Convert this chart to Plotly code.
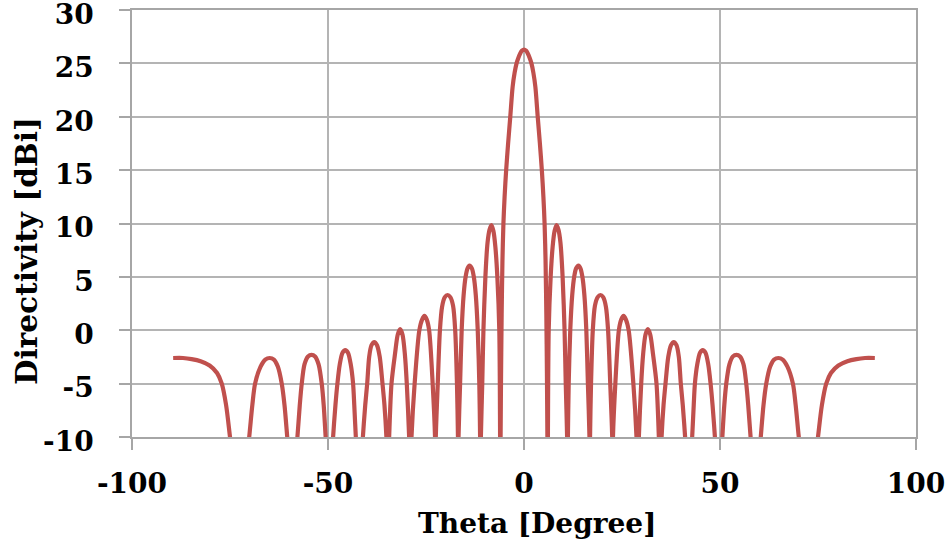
import plotly.graph_objects as go

# Directivity pattern (theta in degrees, directivity in dBi)
theta_left = [-89.5, -87.0, -84.8, -82.5, -80.2, -78.3, -77.1, -76.0, -75.0,
              -72.5, -70.1, -69.3, -68.6, -67.2, -66.0, -64.9, -63.8, -62.8, -61.8, -61.1, -60.4,
              -59.1, -57.8, -57.2, -56.7, -56.0, -55.1, -54.2, -53.3, -52.4, -51.6, -51.1, -50.6,
              -49.6, -48.7, -48.1, -47.6, -47.0, -46.3, -45.6, -44.9, -44.2, -43.6, -43.3, -42.9,
              -42.0, -41.1, -40.5, -40.0, -39.5, -38.9, -38.2, -37.5, -36.8, -36.1, -35.6, -35.1,
              -34.75, -34.4, -33.8, -32.9, -32.2, -31.6, -31.0, -30.4, -29.9, -29.3,
              -29.0, -28.7, -27.9, -26.7, -26.0, -25.4, -24.8, -24.2, -23.3, -22.7,
              -22.6, -22.5, -22.0, -21.45, -20.9, -20.2, -19.5, -18.8, -18.1, -17.55, -17.1, -16.85,
              -16.75, -16.7, -16.3, -15.9, -15.4, -14.9, -14.4, -13.9, -13.3, -12.8, -12.3, -11.8, -11.4, -11.2,
              -11.1, -11.0, -10.65, -10.35, -9.85, -9.3, -8.8, -8.3, -7.8, -7.3, -6.8, -6.3, -6.1,
              -6.04, -5.97, -5.85, -5.7, -5.5, -5.25, -4.95, -4.55, -4.05, -3.5, -2.9, -2.4, -1.9,
              -1.45, -1.0, -0.5]
dbi_left = [-2.6, -2.6, -2.7, -2.9, -3.3, -4.0, -5.0, -7.0, -10.0,
            -18.0, -10.0, -7.0, -5.0, -3.4, -2.75, -2.6, -2.75, -3.4, -5.0, -7.0, -10.0,
            -16.0, -10.0, -7.0, -5.0, -3.2, -2.45, -2.3, -2.45, -3.2, -5.0, -7.0, -10.0,
            -16.0, -10.0, -7.0, -5.0, -3.2, -2.1, -1.85, -2.1, -3.2, -5.0, -7.0, -10.0,
            -16.0, -10.0, -7.0, -5.0, -2.5, -1.4, -1.1, -1.4, -2.5, -5.0, -7.0, -10.0,
            -14.0, -10.0, -5.0, -2.2, -0.4, 0.1, -0.4, -2.2, -5.0, -10.0,
            -14.0, -10.0, -5.0, 0.0, 1.0, 1.35, 1.0, 0.0, -5.0, -10.0,
            -14.0, -10.0, -5.0, 0.0, 2.2, 3.1, 3.3, 3.1, 2.3, 0.0, -5.0, -10.0,
            -14.0, -10.0, -5.0, 0.0, 3.3, 5.0, 5.8, 6.05, 5.8, 5.0, 3.3, 0.0, -5.0, -10.0,
            -14.0, -10.0, -5.0, 0.0, 5.0, 8.2, 9.4, 9.85, 9.3, 7.8, 5.0, 0.0, -10.0,
            -14.0, -10.0, -4.0, 1.5, 6.5, 10.0, 12.5, 15.0, 17.5, 20.0, 22.8, 24.1, 25.0,
            25.5, 25.9, 26.2]

theta_right = [0.0, 0.5, 1.0, 1.45, 1.9, 2.4, 2.9, 3.5, 4.05, 4.55, 4.95, 5.25, 5.5, 5.7, 5.85, 5.97, 6.04,
               6.1, 6.3, 6.8, 7.3, 7.8, 8.3, 8.8, 9.3, 9.85, 10.35, 10.65, 11.0, 11.1,
               11.2, 11.4, 11.8, 12.3, 12.8, 13.3, 13.9, 14.4, 14.9, 15.4, 15.9, 16.3, 16.7, 16.75,
               16.85, 17.1, 17.55, 18.1, 18.8, 19.5, 20.2, 20.9, 21.45, 22.0, 22.5, 22.6,
               22.7, 23.3, 24.2, 24.8, 25.4, 26.0, 26.7, 27.9, 28.7, 29.0,
               29.3, 29.9, 30.4, 31.0, 31.6, 32.2, 32.9, 33.8, 34.4, 34.75,
               35.1, 35.6, 36.1, 36.8, 37.5, 38.2, 38.9, 39.5, 40.0, 40.5, 41.1, 42.0,
               42.9, 43.3, 43.6, 44.2, 44.9, 45.6, 46.3, 47.0, 47.6, 48.1, 48.7, 49.6,
               50.6, 51.1, 51.6, 52.4, 53.3, 54.2, 55.1, 56.0, 56.7, 57.2, 57.8, 59.1,
               60.4, 61.1, 61.8, 62.8, 63.8, 64.9, 66.0, 67.2, 68.6, 69.3, 70.1, 72.5,
               75.0, 76.0, 77.1, 78.3, 80.2, 82.5, 84.8, 87.0, 89.5]
dbi_right = [26.3, 26.2, 25.9, 25.5, 25.0, 24.1, 22.8, 20.0, 17.5, 15.0, 12.5, 10.0, 6.5, 1.5, -4.0, -10.0, -14.0,
             -10.0, 0.0, 5.0, 7.8, 9.3, 9.85, 9.4, 8.2, 5.0, 0.0, -5.0, -10.0, -14.0,
             -10.0, -5.0, 0.0, 3.3, 5.0, 5.8, 6.05, 5.8, 5.0, 3.3, 0.0, -5.0, -10.0, -14.0,
             -10.0, -5.0, 0.0, 2.3, 3.1, 3.3, 3.1, 2.2, 0.0, -5.0, -10.0, -14.0,
             -10.0, -5.0, 0.0, 1.0, 1.35, 1.0, 0.0, -5.0, -10.0, -14.0,
             -10.0, -5.0, -2.2, -0.4, 0.1, -0.4, -2.2, -5.0, -10.0, -14.0,
             -10.0, -7.0, -5.0, -2.5, -1.4, -1.1, -1.4, -2.5, -5.0, -7.0, -10.0, -16.0,
             -10.0, -7.0, -5.0, -3.2, -2.1, -1.85, -2.1, -3.2, -5.0, -7.0, -10.0, -16.0,
             -10.0, -7.0, -5.0, -3.2, -2.45, -2.3, -2.45, -3.2, -5.0, -7.0, -10.0, -16.0,
             -10.0, -7.0, -5.0, -3.4, -2.75, -2.6, -2.75, -3.4, -5.0, -7.0, -10.0, -18.0,
             -10.0, -7.0, -5.0, -4.0, -3.3, -2.9, -2.7, -2.6, -2.6]

x_tick_values = [-100, -50, 0, 50, 100]
x_tick_labels = ["-100", "-50", "0", "50", "100"]
y_tick_values = [-10, -5, 0, 5, 10, 15, 20, 25, 30]
y_tick_labels = ["-10", "-5", "0", "5", "10", "15", "20", "25", "30"]

x_title = "Theta [Degree]"
y_title = "Directivity [dBi]"

theta_deg = theta_left + theta_right
directivity_dbi = dbi_left + dbi_right

FONT = "DejaVu Serif"
GRID = "#b4b4b4"
AXIS = "#a6a6a6"
tick_font = dict(family=FONT, size=28, color="black", weight="bold")

fig = go.Figure(
    go.Scatter(
        x=theta_deg, y=directivity_dbi, mode="lines",
        line=dict(color="#c0504d", width=4.2, shape="spline", smoothing=0.8),
        showlegend=False, hoverinfo="skip",
    )
)

L, R, T, B = 132, 31, 10, 113
W, H = 947, 550
pw, ph = W - L - R, H - T - B

axis_common = dict(
    showgrid=True, gridcolor=GRID, gridwidth=1.5,
    showline=True, linecolor=AXIS, linewidth=1.5, mirror=True,
    ticks="outside", ticklen=11, tickcolor=AXIS, tickwidth=1.5,
    tickfont=tick_font, zeroline=False, automargin=False,
    ticklabeloverflow="allow",
)

fig.update_layout(
    width=W, height=H,
    margin=dict(l=L, r=R, t=T, b=B, pad=0),
    paper_bgcolor="white", plot_bgcolor="white",
    xaxis=dict(range=[-100, 100], tickmode="array", tickvals=x_tick_values,
               ticktext=x_tick_labels, ticklabelstandoff=10, **axis_common),
    yaxis=dict(range=[-10, 30], tickmode="array", tickvals=y_tick_values,
               ticktext=y_tick_labels, ticklabelstandoff=20, ticklabelshift=4,
               **axis_common),
    annotations=[
        dict(text=x_title, xref="paper", yref="paper",
             x=(536.5 - L) / pw, y=(H - B - 523) / ph,
             xanchor="center", yanchor="middle", showarrow=False,
             font=dict(family=FONT, size=28, color="black", weight="bold")),
        dict(text=y_title, xref="paper", yref="paper", textangle=-90,
             x=(27 - L) / pw, y=(H - B - 251) / ph,
             xanchor="center", yanchor="middle", showarrow=False,
             font=dict(family=FONT, size=29.5, color="black", weight="bold")),
    ],
)

# remove the browser's default 8px body margin so the figure sits at the window origin
fig.write_html("out.html", config={"displayModeBar": False},
               post_script="document.body.style.margin='0';")
